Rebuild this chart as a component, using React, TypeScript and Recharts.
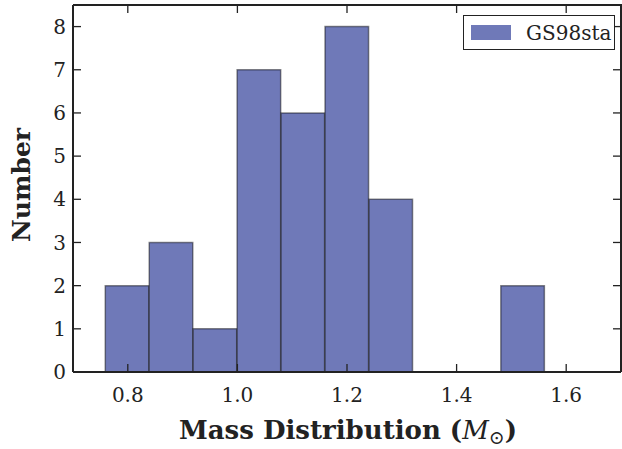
import React from 'react';
import { ComposedChart, Bar, XAxis, YAxis, Legend, Label } from 'recharts';

const binCenters = [0.799, 0.8792, 0.9594, 1.0396, 1.1198, 1.2, 1.2802, 1.3604, 1.4406, 1.5208];
const counts = [2, 3, 1, 7, 6, 8, 4, 0, 0, 2];
const xTicks = [0.8, 1.0, 1.2, 1.4, 1.6];
const yTicks = [0, 1, 2, 3, 4, 5, 6, 7, 8];
const seriesName = 'GS98sta';

const data = binCenters.map((c, i) => ({ mass: c, count: counts[i] }));

const W = 622;
const H = 449;
const LEFT = 73;
const RIGHT = 1;
const BOTTOM = 77;
const TOP = 5;
const X_DOMAIN: [number, number] = [0.7, 1.7];
const Y_DOMAIN: [number, number] = [0, 8.5];
const BIN_WIDTH = 0.0802;
// keep just under the band size, otherwise recharts falls back to 90% bars
const BAR_PX = (BIN_WIDTH / (X_DOMAIN[1] - X_DOMAIN[0])) * (W - LEFT - RIGHT) - 0.4;

const FONT = '"DejaVu Serif", serif';
const TICK_LEN = 8;
const INK = '#222';

// bottom tick also draws the mirrored tick on the top spine
const BottomTick = (props: any) => {
  const { x, y, payload } = props;
  return (
    <g>
      <line x1={x} y1={y} x2={x} y2={y - TICK_LEN} stroke={INK} strokeWidth={1.3} />
      <line x1={x} y1={TOP} x2={x} y2={TOP + TICK_LEN} stroke={INK} strokeWidth={1.3} />
      <text x={x} y={y + 30} textAnchor="middle" fontFamily={FONT} fontSize={20} fill={INK}>
        {Number(payload.value).toFixed(1)}
      </text>
    </g>
  );
};

// left tick also draws the mirrored tick on the right spine
const LeftTick = (props: any) => {
  const { x, y, payload } = props;
  return (
    <g>
      <line x1={x} y1={y} x2={x + TICK_LEN} y2={y} stroke={INK} strokeWidth={1.3} />
      <line x1={W - RIGHT} y1={y} x2={W - RIGHT - TICK_LEN} y2={y} stroke={INK} strokeWidth={1.3} />
      <text x={x - 7} y={y} dy="0.36em" textAnchor="end" fontFamily={FONT} fontSize={20} fill={INK}>
        {payload.value}
      </text>
    </g>
  );
};

const XLabel = () => (
  <text x={348} y={439} textAnchor="middle" fontFamily={FONT} fontSize={26} fontWeight="bold" fill={INK}>
    Mass Distribution (
    <tspan fontStyle="italic" fontWeight="normal">M</tspan>
    <tspan fontSize={19} fontWeight="normal" dy={5}>⊙</tspan>
    <tspan dy={-5}>)</tspan>
  </text>
);

const YLabel = () => (
  <text
    x={30}
    y={185}
    transform="rotate(-90 30 185)"
    textAnchor="middle"
    fontFamily={FONT}
    fontSize={25}
    fontWeight="bold"
    fill={INK}
  >
    Number
  </text>
);

const LegendBox = () => (
  <div
    style={{
      width: 152,
      height: 35,
      border: '1.5px solid #222',
      background: '#fff',
      display: 'flex',
      alignItems: 'center',
      boxSizing: 'border-box',
    }}
  >
    <div style={{ width: 40, height: 15, background: '#6f79b8', marginLeft: 7 }} />
    <span style={{ fontFamily: FONT, fontSize: 20, color: INK, marginLeft: 15 }}>{seriesName}</span>
  </div>
);

export default function App() {
  return (
    <div style={{ position: 'absolute', left: 0, top: 0, width: W, height: H, background: '#fff', overflow: 'hidden' }}>
      <ComposedChart
        width={W}
        height={H}
        data={data}
        barCategoryGap={0}
        barGap={0}
        margin={{ top: TOP, right: RIGHT, bottom: 0, left: 0 }}
      >
        <Bar
          dataKey="count"
          name={seriesName}
          fill="#6f79b8"
          stroke="#000"
          strokeOpacity={0.45}
          strokeWidth={1.5}
          barSize={BAR_PX}
          isAnimationActive={false}
        />
        <XAxis
          dataKey="mass"
          type="number"
          domain={X_DOMAIN}
          ticks={xTicks}
          allowDataOverflow
          height={BOTTOM}
          tickSize={0}
          tickMargin={0}
          tick={<BottomTick />}
          axisLine={{ stroke: INK, strokeWidth: 2 }}
        >
          <Label content={<XLabel />} />
        </XAxis>
        <YAxis
          type="number"
          domain={Y_DOMAIN}
          ticks={yTicks}
          allowDataOverflow
          width={LEFT}
          tickSize={0}
          tickMargin={0}
          tick={<LeftTick />}
          axisLine={{ stroke: INK, strokeWidth: 2 }}
        >
          <Label content={<YLabel />} />
        </YAxis>
        <Legend
          layout="horizontal"
          verticalAlign="middle"
          content={<LegendBox />}
          wrapperStyle={{ position: 'absolute', top: 15, left: 463, width: 152 }}
        />
      </ComposedChart>
      {/* top and right spines of the axes frame */}
      <div
        style={{
          position: 'absolute',
          left: LEFT,
          top: TOP - 1,
          width: W - LEFT,
          height: H - BOTTOM - TOP + 1,
          borderTop: `2px solid ${INK}`,
          borderRight: `2px solid ${INK}`,
          boxSizing: 'border-box',
          pointerEvents: 'none',
        }}
      />
    </div>
  );
}
